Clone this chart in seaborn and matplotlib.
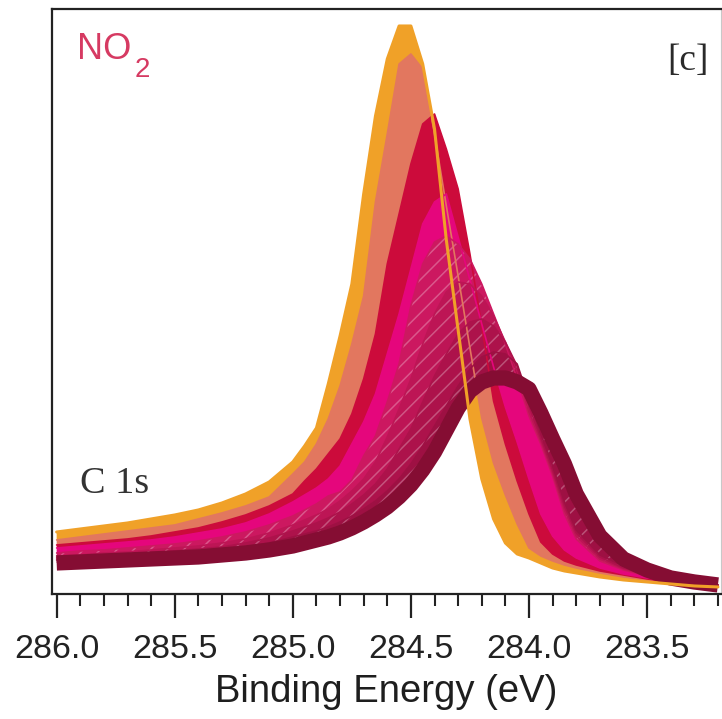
import matplotlib
matplotlib.use("Agg")
import matplotlib.pyplot as plt
from matplotlib.ticker import FixedLocator, MultipleLocator
import pandas as pd
import seaborn as sns

# Binding-energy grid of the C 1s spectra (eV)
binding_energy = [286.0, 285.9, 285.8, 285.7, 285.6, 285.5, 285.4, 285.3, 285.2, 285.1,
                  285.0, 284.95, 284.9, 284.85, 284.8, 284.75, 284.7, 284.65, 284.6, 284.55,
                  284.5, 284.45, 284.4, 284.35, 284.3, 284.25, 284.2, 284.15, 284.1, 284.05,
                  284.0, 283.95, 283.9, 283.85, 283.8, 283.7, 283.6, 283.5, 283.4, 283.3, 283.2]

# C 1s intensity (arb. units) for successive NO2 exposure steps
scan_01 = [62, 65, 68, 71, 75, 79, 84, 91, 100, 112, 132, 148, 166, 210, 258, 310, 400, 478, 535, 568,
           568, 530, 465, 354, 264, 175, 115, 75, 51, 40, 36, 31, 26, 23, 21, 17, 14, 12, 10, 8, 7]
scan_02 = [54, 57, 60, 63, 66, 69, 75, 81, 88, 97, 120, 132, 150, 175, 208, 250, 298, 392, 460, 530,
           540, 525, 460, 388, 318, 246, 176, 131, 99, 70, 46, 38, 33, 29, 26, 21, 17, 14, 12, 10, 8]
scan_03 = [49, 51, 53, 55, 58, 62, 66, 72, 79, 88, 100, 113, 125, 140, 155, 180, 215, 260, 330, 380,
           430, 470, 480, 445, 405, 340, 268, 193, 150, 113, 80, 52, 40, 33, 29, 23, 19, 15, 12, 10, 8]
scan_04 = [46, 48, 50, 52, 54, 57, 61, 65, 71, 80, 92, 99, 106, 115, 128, 150, 172, 200, 240, 280,
           325, 370, 392, 400, 357, 314, 270, 227, 187, 152, 115, 80, 58, 44, 36, 26, 20, 16, 13, 10, 8]
scan_05 = [41, 43, 44, 46, 48, 50, 53, 57, 62, 69, 78, 84, 90, 98, 102, 114, 138, 158, 192, 230,
           288, 330, 352, 358, 350, 335, 310, 280, 250, 215, 178, 150, 118, 80, 55, 33, 24, 18, 14, 11, 9]
scan_06 = [38, 39, 41, 42, 44, 46, 48, 51, 55, 61, 69, 74, 79, 85, 93, 103, 115, 132, 157, 185,
           215, 250, 280, 302, 312, 310, 298, 278, 252, 222, 182, 153, 121, 84, 58, 35, 25, 19, 15, 12, 9]
scan_07 = [36, 37, 38, 40, 41, 43, 45, 47, 51, 56, 63, 67, 71, 76, 82, 90, 99, 110, 125, 145,
           165, 192, 218, 240, 260, 272, 275, 268, 252, 228, 188, 156, 124, 88, 61, 37, 26, 20, 15, 12, 9]
scan_08 = [34, 35, 36, 37, 38, 40, 42, 44, 47, 51, 57, 60, 63, 67, 72, 78, 85, 93, 103, 115,
           130, 148, 168, 188, 208, 225, 237, 242, 240, 230, 195, 160, 128, 92, 64, 39, 28, 21, 16, 12, 9]
scan_09 = [31, 32, 33, 34, 35, 36, 37, 39, 41, 44, 48, 51, 54, 57, 61, 66, 72, 79, 87, 97,
           109, 124, 142, 164, 186, 203, 212, 216, 216, 212, 205, 181, 155, 130, 100, 58, 35, 24, 16, 12, 9]

scan_names = ["scan_01", "scan_02", "scan_03", "scan_04", "scan_05",
              "scan_06", "scan_07", "scan_08", "scan_09"]
scan_values = [scan_01, scan_02, scan_03, scan_04, scan_05,
               scan_06, scan_07, scan_08, scan_09]
scan_colors = ["#f0a128", "#e2775f", "#cc0b3b", "#e5067c", "#cc1860",
               "#bd1555", "#ad124b", "#9e1043", "#850d33"]

xtick_values = [286.0, 285.5, 285.0, 284.5, 284.0, 283.5]
xtick_labels = ["286.0", "285.5", "285.0", "284.5", "284.0", "283.5"]

frames = [pd.DataFrame({"Binding Energy (eV)": binding_energy, "Intensity": vals, "scan": name})
          for name, vals in zip(scan_names, scan_values)]
spectra = pd.concat(frames, ignore_index=True)
palette = dict(zip(scan_names, scan_colors))

sns.set_style("ticks")
plt.rcParams["font.family"] = ["Liberation Sans", "DejaVu Sans"]
plt.rcParams["hatch.linewidth"] = 1.1

fig = plt.figure(figsize=(7.22, 7.19), dpi=100)
ax = fig.add_axes([0.0716, 0.1739, 0.927, 0.8136])

# each exposure step shades the strip down to the following step;
# the later, noisier steps get a light streak texture
for k in range(len(scan_names) - 1):
    textured = k >= 4
    ax.fill_between(binding_energy, scan_values[k], scan_values[k + 1],
                    facecolor=scan_colors[k],
                    edgecolor=(1, 1, 1, 0.28) if textured else "none",
                    hatch="//" if textured else None,
                    linewidth=0, zorder=2 + k * 0.01)

# outline traces: every step fine, last step heavy
sns.lineplot(data=spectra[spectra["scan"].isin(scan_names[1:-1])], x="Binding Energy (eV)",
             y="Intensity", hue="scan", hue_order=scan_names[1:-1], palette=palette,
             estimator=None, sort=False, linewidth=1.2, legend=False, ax=ax)
sns.lineplot(data=spectra[spectra["scan"] == scan_names[-1]], x="Binding Energy (eV)",
             y="Intensity", color=scan_colors[-1], estimator=None, sort=False,
             linewidth=11, legend=False, ax=ax,
             solid_joinstyle="round", solid_capstyle="butt")
sns.lineplot(data=spectra[spectra["scan"] == scan_names[0]], x="Binding Energy (eV)",
             y="Intensity", color=scan_colors[0], estimator=None, sort=False,
             linewidth=2.2, legend=False, ax=ax, solid_joinstyle="round")
for line in ax.lines:
    line.set_zorder(3)

ax.set_xlim(286.021, 283.187)
ax.set_ylim(0, 585)
ax.set_yticks([])
ax.set_ylabel("")
ax.xaxis.set_major_locator(FixedLocator(xtick_values))
ax.set_xticklabels(xtick_labels)
ax.xaxis.set_minor_locator(MultipleLocator(0.1))
ax.tick_params(axis="x", which="major", direction="out", length=17, width=1.6,
               labelsize=24.5, pad=12, color="#222222", labelcolor="#222222")
ax.tick_params(axis="x", which="minor", direction="out", length=8.6, width=1.5,
               color="#222222")
ax.set_xlabel("Binding Energy (eV)", fontsize=27.5, labelpad=6, color="#1e1e1e")

for side in ["left", "top", "bottom"]:
    ax.spines[side].set_linewidth(1.6)
    ax.spines[side].set_color("#222222")
    ax.spines[side].set_zorder(5)
ax.spines["right"].set_linewidth(0.8)
ax.spines["right"].set_color("#c8c8c8")

ax.text(0.0378, 0.9145, "NO", transform=ax.transAxes, fontsize=26, color="#d63a62",
        va="baseline", ha="left")
ax.text(0.1245, 0.8838, "2", transform=ax.transAxes, fontsize=20, color="#d63a62",
        va="baseline", ha="left")
ax.text(0.981, 0.8957, "[c]", transform=ax.transAxes, fontsize=27,
        family=["Liberation Serif", "DejaVu Serif"], color="#2a2a2a",
        va="baseline", ha="right")
ax.text(0.0423, 0.1726, "C 1s", transform=ax.transAxes, fontsize=27.5,
        family=["Liberation Serif", "DejaVu Serif"], color="#333333",
        va="baseline", ha="left")

fig.savefig("out.png", dpi=100)
